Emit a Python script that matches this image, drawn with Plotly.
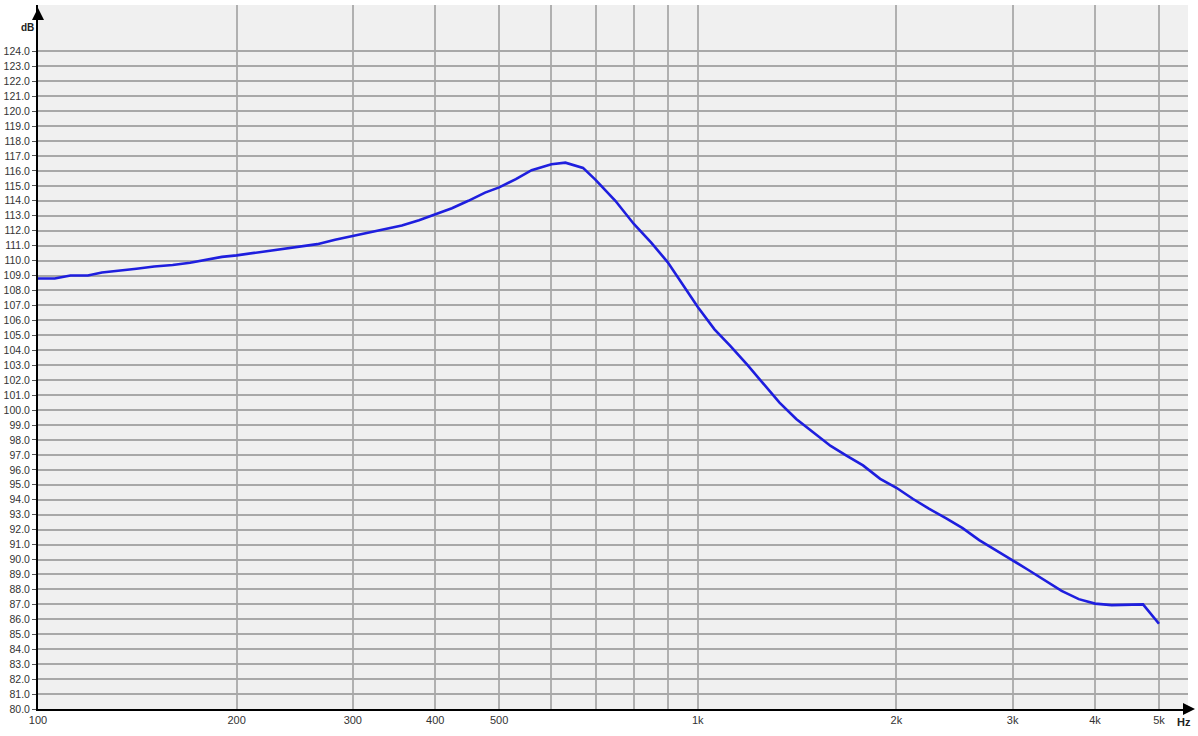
import plotly.graph_objects as go

# Frequency response
freq_hz = [100, 106, 112, 119, 125, 132, 141, 150, 160, 170, 180, 190, 200, 212, 224, 237,
           250, 265, 282, 300, 318, 336, 356, 378, 400, 424, 449, 476, 500, 530, 560, 600,
           630, 670, 700, 750, 800, 850, 900, 950, 1000, 1060, 1120, 1190, 1260, 1330, 1410,
           1500, 1590, 1680, 1780, 1890, 2000, 2120, 2240, 2380, 2520, 2670, 2830, 3000,
           3170, 3360, 3560, 3780, 4000, 4240, 4490, 4730, 5000]
level_db = [108.8, 108.8, 109.0, 109.0, 109.2, 109.3, 109.45, 109.6, 109.7, 109.85, 110.05,
            110.25, 110.35, 110.5, 110.65, 110.8, 110.9, 111.1, 111.4, 111.65, 111.9, 112.1,
            112.35, 112.7, 113.1, 113.5, 114.0, 114.55, 114.9, 115.45, 116.05, 116.45, 116.55,
            116.2, 115.4, 114.0, 112.45, 111.2, 109.9, 108.4, 106.9, 105.4, 104.3, 103.0, 101.7,
            100.5, 99.4, 98.5, 97.6, 96.95, 96.3, 95.4, 94.8, 94.05, 93.4, 92.75, 92.1, 91.3,
            90.6, 89.95, 89.3, 88.6, 87.9, 87.35, 87.05, 86.95, 87.0, 87.0, 85.7]

x_tick_vals = [100, 200, 300, 400, 500, 600, 700, 800, 900, 1000, 2000, 3000, 4000, 5000]
x_tick_text = ["100", "200", "300", "400", "500", "", "", "", "", "1k", "2k", "3k", "4k", "5k"]
y_tick_vals = list(range(80, 125))
y_tick_text = [f"{v:.1f}" for v in y_tick_vals]

fig = go.Figure()
fig.add_trace(go.Scatter(x=freq_hz, y=level_db, mode="lines",
                         line=dict(color="#1e1ede", width=2.6), hoverinfo="x+y"))

W, H = 1198, 736
ml, mr, mt, mb = 38, 10, 5, 27
fig.update_layout(
    width=W, height=H,
    margin=dict(l=ml, r=mr, t=mt, b=mb, pad=0, autoexpand=False),
    paper_bgcolor="white", plot_bgcolor="#f0f0f0",
    showlegend=False,
    font=dict(family="Liberation Sans, Arial, sans-serif", size=11, color="#333333"),
)
fig.update_xaxes(type="log", range=[2.0, 3.743], automargin=False,
                 tickvals=x_tick_vals, ticktext=x_tick_text,
                 showgrid=True, gridcolor="#b0b0b0", gridwidth=1.5,
                 showline=True, linecolor="black", linewidth=2,
                 ticks="", zeroline=False, tickfont=dict(size=11, color="#333333"))
fig.update_yaxes(range=[80, 127.1], automargin=False,
                 tickvals=y_tick_vals, ticktext=y_tick_text,
                 showgrid=True, gridcolor="#a8a8a8", gridwidth=1.5,
                 showline=True, linecolor="black", linewidth=2,
                 ticks="outside", ticklen=4, tickcolor="#555555", tickwidth=1,
                 zeroline=False, tickfont=dict(size=10.5, color="#333333"))

pw = W - ml - mr
ph = H - mt - mb
# axis arrows
fig.add_annotation(xref="paper", yref="paper", x=0, y=1 - 3 / ph, ax=0, ay=12,
                   showarrow=True, arrowhead=2, arrowsize=1.2, arrowwidth=2,
                   arrowcolor="black", text="")
fig.add_annotation(xref="paper", yref="paper", x=1 + 7 / pw, y=0, ax=-12, ay=0,
                   showarrow=True, arrowhead=2, arrowsize=1.2, arrowwidth=2,
                   arrowcolor="black", text="")
# axis unit labels
fig.add_annotation(xref="paper", yref="paper", x=(27 - ml) / pw, y=1 - (27 - mt) / ph,
                   text="<b>dB</b>", showarrow=False,
                   font=dict(size=10, color="#222222"), xanchor="center", yanchor="middle")
fig.add_annotation(xref="paper", yref="paper", x=(1184 - ml) / pw, y=-(722 - (H - mb)) / ph,
                   text="<b>Hz</b>", showarrow=False,
                   font=dict(size=11, color="#222222"), xanchor="center", yanchor="middle")

fig.write_html("out.html", config={"displayModeBar": False},
               post_script="document.body.style.margin='0';document.body.style.overflow='hidden';")
